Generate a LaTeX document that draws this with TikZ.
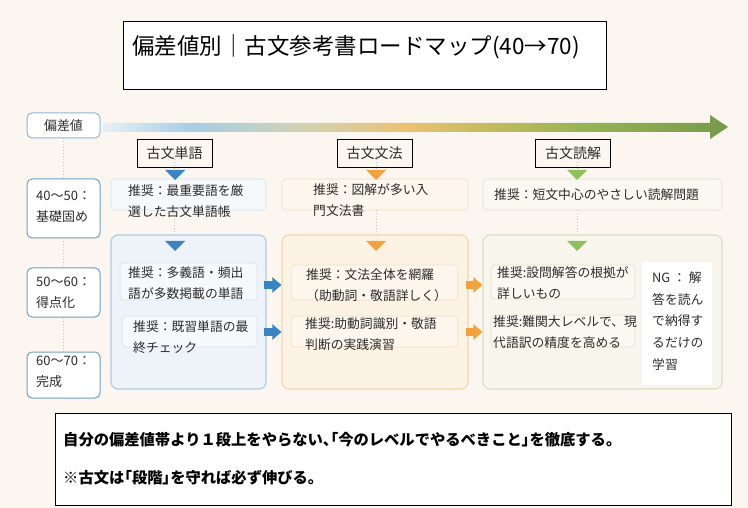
\documentclass[tikz,border=0pt]{standalone}
\usepackage{fontspec}
\setmainfont{Noto Sans CJK JP}
\newfontfamily\paltfont[RawFeature=+palt]{Noto Sans CJK JP}
\usetikzlibrary{arrows.meta,calc,positioning}

\definecolor{bgC}{HTML}{FBF6EF}
\definecolor{txtC}{HTML}{2B2B2B}
\definecolor{dotC}{HTML}{C9C2BA}
\definecolor{lvC}{HTML}{6F9DC6}
\definecolor{hvC}{HTML}{8FB6D6}
\definecolor{blueC}{HTML}{3A84C4}
\definecolor{orangeC}{HTML}{F2A23C}
\definecolor{greenC}{HTML}{8DC15B}
\definecolor{pBfill}{HTML}{EDF3F9}
\definecolor{pBdraw}{HTML}{AECBE3}
\definecolor{cBfill}{HTML}{F6F9FC}
\definecolor{cBdraw}{HTML}{D6E2EE}
\definecolor{pOfill}{HTML}{FDF3E5}
\definecolor{pOdraw}{HTML}{F5D8A9}
\definecolor{cOfill}{HTML}{FDF6EC}
\definecolor{cOdraw}{HTML}{F2DFC3}
\definecolor{pGfill}{HTML}{F8F6EC}
\definecolor{pGdraw}{HTML}{D9DFC3}
\definecolor{cGfill}{HTML}{FAF8F0}
\definecolor{cGdraw}{HTML}{E0E4D0}
\definecolor{gA}{HTML}{E8F0F5}
\definecolor{gB}{HTML}{A8CDE6}
\definecolor{gC}{HTML}{CFD3B4}
\definecolor{gD}{HTML}{ECC176}
\definecolor{gE}{HTML}{C8BC62}
\definecolor{gF}{HTML}{98B456}
\definecolor{gG}{HTML}{77994A}

\pgfdeclarehorizontalshading{roadmap}{100bp}{color(0bp)=(gA); color(25bp)=(gA);
  color(32bp)=(gB); color(41bp)=(gC); color(49bp)=(gD); color(55bp)=(gE);
  color(63bp)=(gF); color(75bp)=(gG); color(100bp)=(gG)}

\newcommand{\downtri}[3]{\fill[#3] (#1,#2) ++(-10,0) -- ++(20,0) -- ++(-10,10) -- cycle;}
\newcommand{\pp}[1]{{\paltfont\bfseries #1}}

\begin{document}
\begin{tikzpicture}[x=1pt,y=-1pt,
    every node/.style={inner sep=0pt,text=txtC},
    panel/.style={draw,rounded corners=7pt,line width=1.1pt},
    card/.style={draw,rounded corners=4pt,line width=0.7pt},
    lvbox/.style={draw=lvC,fill=white,rounded corners=5pt,line width=1pt,minimum width=73pt},
    head/.style={draw=black,line width=0.9pt,minimum width=75pt,minimum height=28pt,
      font=\fontsize{14}{14}\selectfont},
    txt/.style={anchor=north west,align=left,font=\fontsize{12.8}{20.5}\selectfont},
    lvtxt/.style={anchor=north west,align=left,font=\fontsize{13}{21}\selectfont},
    dotline/.style={draw=dotC,line width=0.8pt,dash pattern=on 1pt off 2pt},
    barrow/.style={draw=#1,line width=8pt,-{Triangle[length=9pt,width=15pt]}}]
        \useasboundingbox (0,0) rectangle (748,508);
        \fill[bgC] (0,0) rectangle (748,508);

        % title
        \node[draw=black,fill=white,line width=0.9pt,minimum width=483pt,minimum height=68pt](title) at (364.5,55) {};
        \node[anchor=west,text=black,font=\fontsize{22.5}{22.5}\selectfont](titletxt) at (132,47) {偏差値別｜古文参考書ロードマップ(40→70)};

        % road arrow
        \shade[shading=roadmap] (103,123) -- (710,123) -- (710,115) -- (728,127) -- (710,139) -- (710,132) -- (103,132) -- cycle;

        % levels
        \node[lvbox,draw=hvC,minimum height=25pt](hv) at (63.5,125.5) {};
        \node[font=\fontsize{13}{13}\selectfont](hvtxt) at (hv) {偏差値};
        \node[lvbox,minimum height=59pt](lv1) at (63.5,208.5) {};
        \node[lvbox,minimum height=49pt](lv2) at (63.5,292.5) {};
        \node[lvbox,minimum height=46pt](lv3) at (63.5,375) {};
        \node[lvtxt](lv1txt) at (36,190.5) {40～50：\\基礎固め};
        \node[lvtxt](lv2txt) at (36,276.5) {50～60：\\得点化};
        \node[lvtxt](lv3txt) at (36,355.5) {60～70：\\完成};
        \draw[dotline] (hv.south) -- (lv1.north);
        \draw[dotline] (lv1.south) -- (lv2.north);
        \draw[dotline] (lv2.south) -- (lv3.north);

        % column headers
        \node[head](h1) at (174.5,153) {古文単語};
        \node[head](h2) at (374.5,153) {古文文法};
        \node[head](h3) at (573,153) {古文読解};
        \draw[dotline] (h1.center) -- (h1.center |- 0,235);
        \draw[dotline] (376,153) -- (376,235);
        \draw[dotline] (577,153) -- (577,235);

        % first step boxes
        \node[card,draw=cBdraw,fill=cBfill,minimum width=155pt,minimum height=31pt](b1) at (188.5,194.5) {};
        \node[card,draw=cOdraw,fill=cOfill,minimum width=186pt,minimum height=31pt](b2) at (375,194.5) {};
        \node[card,draw=cGdraw,fill=cGfill,minimum width=239pt,minimum height=31pt](b3) at (602.5,194.5) {};

        % panels
        \node[panel,draw=pBdraw,fill=pBfill,minimum width=155pt,minimum height=154pt](p1) at (188.5,312) {};
        \node[panel,draw=pOdraw,fill=pOfill,minimum width=186pt,minimum height=154pt](p2) at (375,312) {};
        \node[panel,draw=pGdraw,fill=pGfill,minimum width=239pt,minimum height=154pt](p3) at (602.5,312) {};

        \node[card,draw=cBdraw,fill=cBfill,minimum width=137pt,minimum height=37pt](a1) at (188.5,281.5) {};
        \node[card,draw=cBdraw,fill=cBfill,minimum width=135pt,minimum height=31pt](c1) at (189.5,331.5) {};
        \node[card,draw=cOdraw,fill=cOfill,minimum width=167pt,minimum height=35pt](a2) at (374.5,282.5) {};
        \node[card,draw=cOdraw,fill=cOfill,minimum width=167pt,minimum height=31pt](c2) at (374.5,331.5) {};
        \node[card,draw=cGdraw,fill=cGfill,minimum width=144pt,minimum height=34pt](a3) at (563,282) {};
        \node[card,draw=cGdraw,fill=cGfill,minimum width=144pt,minimum height=32pt](c3) at (563,331) {};
        \node[fill=white,minimum width=70pt,minimum height=123pt](ng) at (677,323.5) {};

        % triangles
        \downtri{175}{170}{blueC}
        \downtri{376}{170}{orangeC}
        \downtri{577}{170}{greenC}
        \downtri{175}{241}{blueC}
        \downtri{376}{241}{orangeC}
        \downtri{577}{241}{greenC}

        % texts
        \node[txt](b1txt) at (128,184.6) {推奨：最重要語を厳\\選した古文単語帳};
        \node[txt](b2txt) at (313,183.6) {推奨：図解が多い入\\門文法書};
        \node[txt](b3txt) at (494,188.6) {推奨：短文中心のやさしい読解問題};
        \node[txt](a1txt) at (128,266.6) {推奨：多義語・頻出\\語が多数掲載の単語};
        \node[txt](c1txt) at (133,320.6) {推奨：既習単語の最\\終チェック};
        \node[txt](a2txt) at (306,268.6) {推奨：文法全体を網羅\\（助動詞・敬語詳しく）};
        \node[txt](c2txt) at (305,317.6) {推奨:助動詞識別・敬語\\判断の実践演習};
        \node[txt](a3txt) at (497,266.6) {推奨:設問解答の根拠が\\詳しいもの};
        \node[txt](c3txt) at (493,315.6) {推奨:難関大レベルで、現\\代語訳の精度を高める};
        \node[txt,font=\fontsize{12.8}{21.7}\selectfont](ngtxt) at (652,271.6) {NG ： 解\\答を読ん\\で納得す\\るだけの\\学習};

        % flow arrows
        \coordinate (r1) at (0,285);
        \coordinate (r2) at (0,332);
        \draw[barrow=blueC] ($(p1.east |- r1)+(-3,0)$) -- (p2.west |- r1);
        \draw[barrow=blueC] ($(p1.east |- r2)+(-3,0)$) -- (p2.west |- r2);
        \draw[barrow=orangeC] ($(p2.east |- r1)+(-3,0)$) -- (p3.west |- r1);
        \draw[barrow=orangeC] ($(p2.east |- r2)+(-3,0)$) -- (p3.west |- r2);

        % note
        \node[draw=black,fill=white,line width=0.9pt,minimum width=676pt,minimum height=92pt](note) at (393,459) {};
        \node[anchor=north west,align=left,text=black,font=\bfseries\fontsize{15.3}{38}\selectfont](notetxt) at (63,432.5)
          {自分の偏差値帯より１段上をやらない\pp{、「}今のレベルでやるべきこと\pp{」}を徹底する。\\※古文は\pp{「}段階\pp{」}を守れば必ず伸びる。};
      \end{tikzpicture}
\end{document}
